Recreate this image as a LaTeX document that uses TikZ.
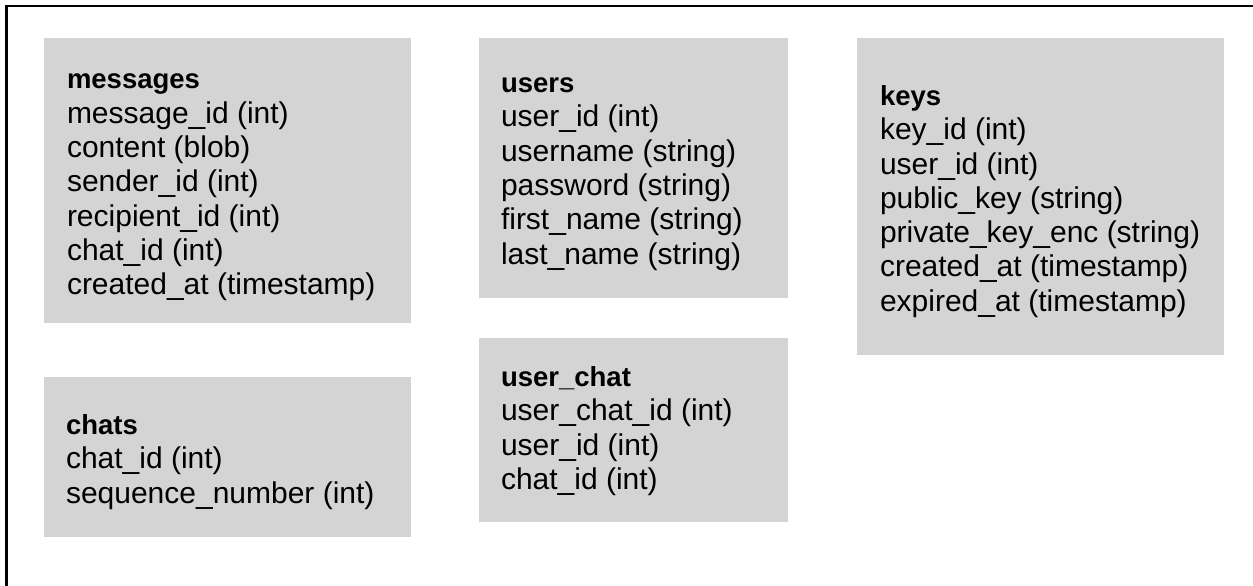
\documentclass[tikz,border=0pt]{standalone}
\usepackage{fontspec}
\setmainfont{Liberation Sans}
\definecolor{boxgray}{RGB}{212,212,212}
\newcommand{\ttl}[1]{{\fontsize{27.5}{34.3}\selectfont\bfseries #1}}
\tikzset{
  tbl/.style={fill=boxgray, draw=none, inner sep=0pt, anchor=center},
  txt/.style={inner sep=0pt, align=left, anchor=west,
    font=\fontsize{30}{34.3}\selectfont},
  frame/.style={line width=2.8pt, black}
}
\begin{document}
\begin{tikzpicture}[x=1pt,y=-1pt]
\useasboundingbox (0,0) rectangle (1253,586);
\coordinate (fa) at (6.5,586);
\coordinate (fb) at (6.5,6);
\coordinate (fc) at (1253,6);
\draw[frame] (fa) -- (fb) -- (fc);

\node[tbl, minimum width=367pt, minimum height=285pt] (messages) at (227.5,180.5) {};
\node[txt] (messagesT) at ([xshift=23pt,yshift=-7pt]messages.west)
 {\ttl{messages}\\ message\_id (int)\\ content (blob)\\ sender\_id (int)\\ recipient\_id (int)\\ chat\_id (int)\\ created\_at (timestamp)};

\node[tbl, minimum width=309pt, minimum height=260pt] (users) at (633.5,168) {};
\node[txt] (usersT) at ([xshift=22pt,yshift=-6pt]users.west)
 {\ttl{users}\\ user\_id (int)\\ username (string)\\ password (string)\\ first\_name (string)\\ last\_name (string)};

\node[tbl, minimum width=367pt, minimum height=317pt] (keys) at (1040.5,196.5) {};
\node[txt] (keysT) at ([xshift=23pt,yshift=-5pt]keys.west)
 {\ttl{keys}\\ key\_id (int)\\ user\_id (int)\\ public\_key (string)\\ private\_key\_enc (string)\\ created\_at (timestamp)\\ expired\_at (timestamp)};

\node[tbl, minimum width=367pt, minimum height=160pt] (chats) at (227.5,457) {};
\node[txt] (chatsT) at ([xshift=22pt,yshift=-5pt]chats.west)
 {\ttl{chats}\\ chat\_id (int)\\ sequence\_number (int)};

\node[tbl, minimum width=309pt, minimum height=184pt] (userchat) at (633.5,430) {};
\node[txt] (userchatT) at ([xshift=22pt,yshift=-1pt]userchat.west)
 {\ttl{user\_chat}\\ user\_chat\_id (int)\\ user\_id (int)\\ chat\_id (int)};
\end{tikzpicture}
\end{document}
